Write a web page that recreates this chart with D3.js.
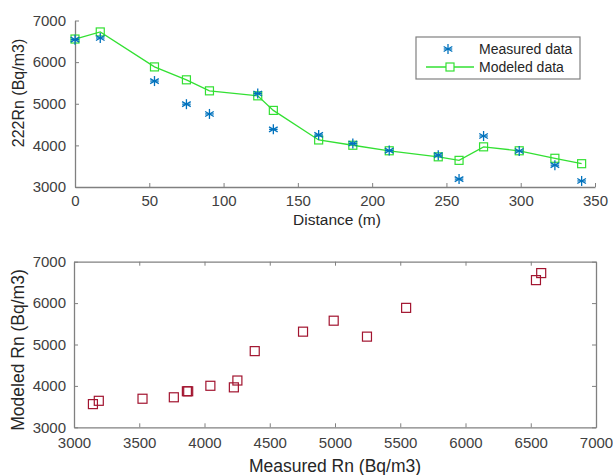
<!DOCTYPE html>
<html>
<head>
<meta charset="utf-8">
<script src="https://cdn.jsdelivr.net/npm/d3@7"></script>
<style>
  body { margin: 0; background: #fff; }
  svg { font-family: "Liberation Sans", Arial, sans-serif; }
  .tick text { fill: #404040; font-size: 15px; }
  .domain, .tick line { stroke: #808080; }
</style>
</head>
<body>
<div id="chart"></div>
<script>
// distance along the profile (m)
const distance = [0, 17, 53.5, 75, 90.5, 123, 133.5, 164, 187, 211.5, 244.5, 258.5, 275, 299, 323, 341];
// measured 222Rn (Bq/m3)
const measured = [6540, 6580, 5545, 4990, 4755, 5245, 4385, 4252, 4045, 3875, 3765, 3190, 4225, 3865, 3525, 3145];
// modeled 222Rn (Bq/m3)
const modeled = [6555, 6725, 5885, 5575, 5310, 5190, 4840, 4130, 4003, 3870, 3725, 3640, 3965, 3870, 3690, 3560];

const distTicks = [0, 50, 100, 150, 200, 250, 300, 350];
const rnTicks = [3000, 4000, 5000, 6000, 7000];
const rnTicksX = [3000, 3500, 4000, 4500, 5000, 5500, 6000, 6500, 7000];
const legendLabels = ['Measured data', 'Modeled data'];

const W = 613, H = 475;
const blue = '#0072bd', green = '#33e033', red = '#a2142f';
const fmt = d3.format('d');

const svg = d3.select('#chart').append('svg')
  .attr('width', W).attr('height', H);

const rows = distance.map((d, i) => ({dist: d, meas: measured[i], mod: modeled[i]}));

// ---------- top panel ----------
const x1 = d3.scaleLinear().domain([0, 350]).range([75, 595]);
const y1 = d3.scaleLinear().domain([3000, 7000]).range([187, 20.5]);

const topG = svg.append('g');

topG.append('g')
  .attr('transform', 'translate(0,' + y1(3000) + ')')
  .call(d3.axisBottom(x1).tickValues(distTicks).tickFormat(fmt).tickSizeInner(-4).tickSizeOuter(0).tickPadding(8.5));

topG.append('g')
  .attr('transform', 'translate(' + x1(0) + ',0)')
  .call(d3.axisLeft(y1).tickValues(rnTicks).tickFormat(fmt).tickSizeInner(-4).tickSizeOuter(0).tickPadding(9));

topG.selectAll('.domain').attr('stroke-width', 1.3);

const line = d3.line().x(d => x1(d.dist)).y(d => y1(d.mod));
topG.append('path')
  .datum(rows)
  .attr('d', line)
  .attr('fill', 'none')
  .attr('stroke', green)
  .attr('stroke-width', 1.3);

function star(g, cx, cy, r, color) {
  const s = g.append('g').attr('transform', 'translate(' + cx + ',' + cy + ')')
    .attr('stroke', color).attr('stroke-width', 1.3);
  [0, 60, 120].forEach(a => {
    const t = a * Math.PI / 180;
    s.append('line')
      .attr('x1', -r * Math.sin(t)).attr('y1', -r * Math.cos(t))
      .attr('x2', r * Math.sin(t)).attr('y2', r * Math.cos(t));
  });
  s.append('line').attr('x1', -r * 0.85).attr('x2', r * 0.85).attr('y1', 0).attr('y2', 0);
}

rows.forEach(d => {
  topG.append('rect')
    .attr('x', x1(d.dist) - 4).attr('y', y1(d.mod) - 4)
    .attr('width', 8).attr('height', 8)
    .attr('fill', 'none').attr('stroke', green).attr('stroke-width', 1.2);
});
rows.forEach(d => star(topG, x1(d.dist), y1(d.meas), 5, blue));

topG.append('text')
  .attr('x', 337).attr('y', 224.5)
  .attr('text-anchor', 'middle')
  .attr('font-size', 15.5).attr('fill', '#262626')
  .text('Distance (m)');

topG.append('text')
  .attr('transform', 'translate(24,93) rotate(-90)')
  .attr('text-anchor', 'middle')
  .attr('font-size', 16).attr('fill', '#262626')
  .text('222Rn (Bq/m3)');

// legend
const lg = topG.append('g');
lg.append('rect')
  .attr('x', 416).attr('y', 37).attr('width', 164).attr('height', 42)
  .attr('fill', '#fff').attr('stroke', '#808080').attr('stroke-width', 1.2);
star(lg, 448, 49, 5, blue);
lg.append('line').attr('x1', 426).attr('x2', 474).attr('y1', 67).attr('y2', 67)
  .attr('stroke', green).attr('stroke-width', 1.3);
lg.append('rect').attr('x', 446).attr('y', 63).attr('width', 8).attr('height', 8)
  .attr('fill', '#fff').attr('stroke', green).attr('stroke-width', 1.2);
legendLabels.forEach((t, i) => {
  lg.append('text')
    .attr('x', 479).attr('y', 54 + i * 18)
    .attr('font-size', 14).attr('fill', '#262626')
    .text(t);
});

// ---------- bottom panel ----------
const x2 = d3.scaleLinear().domain([3000, 7000]).range([74, 596]);
const y2 = d3.scaleLinear().domain([3000, 7000]).range([427.3, 261.7]);

const botG = svg.append('g');

botG.append('g')
  .attr('transform', 'translate(0,' + y2(3000) + ')')
  .call(d3.axisBottom(x2).tickValues(rnTicksX).tickFormat(fmt).tickSizeInner(-4).tickSizeOuter(0).tickPadding(10));
botG.append('g')
  .attr('transform', 'translate(0,' + y2(7000) + ')')
  .call(d3.axisTop(x2).tickValues(rnTicksX).tickSizeInner(-4).tickSizeOuter(0).tickFormat(''));
botG.append('g')
  .attr('transform', 'translate(' + x2(3000) + ',0)')
  .call(d3.axisLeft(y2).tickValues(rnTicks).tickFormat(fmt).tickSizeInner(-4).tickSizeOuter(0).tickPadding(8));
botG.append('g')
  .attr('transform', 'translate(' + x2(7000) + ',0)')
  .call(d3.axisRight(y2).tickValues(rnTicks).tickSizeInner(-4).tickSizeOuter(0).tickFormat(''));

botG.selectAll('.domain').attr('stroke-width', 1.3);

botG.selectAll('rect.pt')
  .data(rows)
  .enter().append('rect')
  .attr('class', 'pt')
  .attr('x', d => x2(d.meas) - 4.5)
  .attr('y', d => y2(d.mod) - 4.5)
  .attr('width', 9).attr('height', 9)
  .attr('fill', 'none').attr('stroke', red).attr('stroke-width', 1.2);

botG.append('text')
  .attr('x', 335).attr('y', 472)
  .attr('text-anchor', 'middle')
  .attr('font-size', 17.5).attr('fill', '#262626')
  .text('Measured Rn (Bq/m3)');

botG.append('text')
  .attr('transform', 'translate(24,350) rotate(-90)')
  .attr('text-anchor', 'middle')
  .attr('font-size', 17.5).attr('fill', '#262626')
  .text('Modeled Rn (Bq/m3)');
</script>
</body>
</html>
